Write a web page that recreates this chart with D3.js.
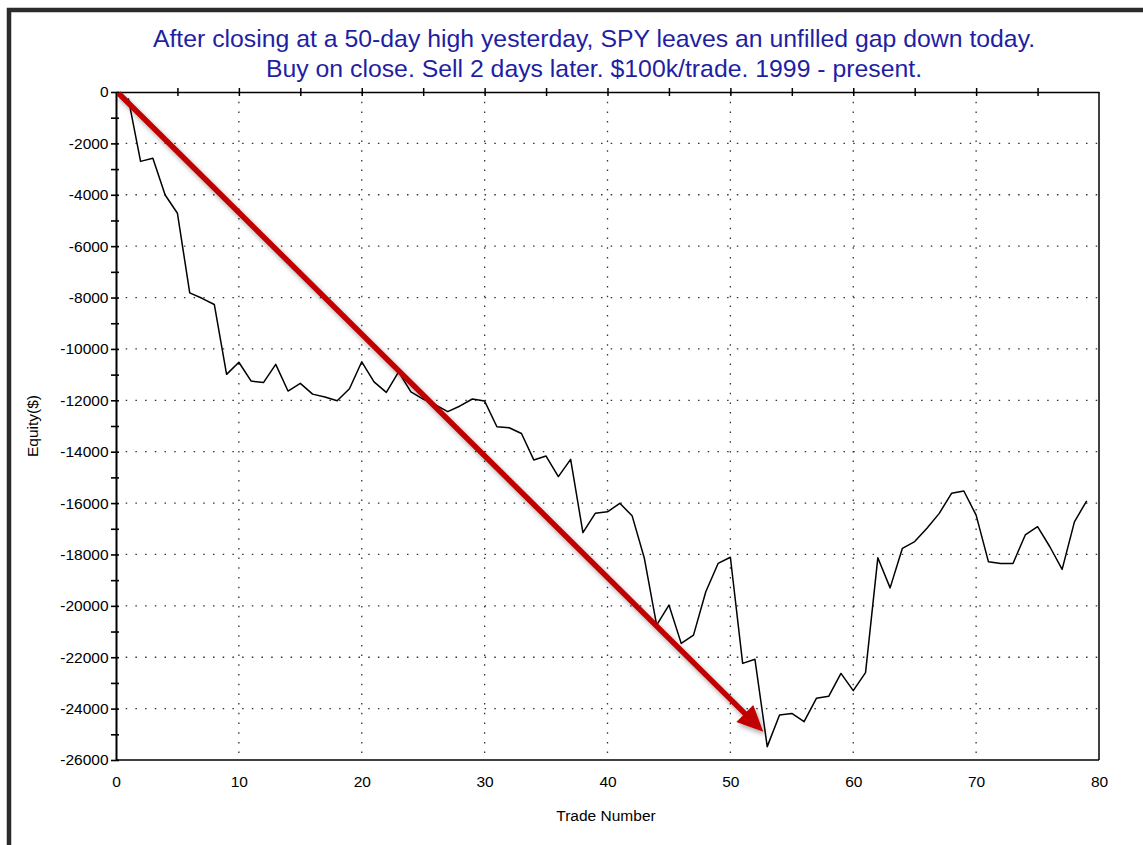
<!DOCTYPE html>
<html>
<head>
<meta charset="utf-8">
<script src="https://cdn.jsdelivr.net/npm/d3@7"></script>
<style>
  html, body { margin: 0; padding: 0; background: #fff; }
  svg { display: block; }
  text { font-family: "Liberation Sans", Arial, sans-serif; }
</style>
</head>
<body>
<svg id="chart" width="1143" height="845"></svg>
<script>
// ---- Data ----
const titleLines = [
  "After closing at a 50-day high yesterday, SPY leaves an unfilled gap down today.",
  "Buy on close. Sell 2 days later. $100k/trade. 1999 - present."
];
const xLabel = "Trade Number";
const yLabel = "Equity($)";
const tradeNumbers = d3.range(1, 80);
const equity = [
  -250, -2700, -2580, -4010, -4720, -7820, -8030, -8270, -10990, -10520,
  -11250, -11310, -10600, -11640, -11340, -11760, -11870, -12020, -11550, -10500,
  -11280, -11690, -10890, -11670, -11950, -12180, -12440, -12220, -11950, -12030,
  -13030, -13070, -13290, -14320, -14170, -14970, -14300, -17150, -16400, -16340,
  -16010, -16490, -18150, -20750, -19970, -21460, -21140, -19450, -18350, -18110,
  -22240, -22080, -25480, -24250, -24190, -24510, -23600, -23520, -22630, -23300,
  -22600, -18130, -19300, -17760, -17500, -16980, -16400, -15620, -15530, -16470,
  -18280, -18350, -18350, -17240, -16920, -17700, -18580, -16730, -15910
];
const xTicks = [0, 10, 20, 30, 40, 50, 60, 70, 80];
const xTopTicks = d3.range(0, 81, 5);
const yTicks = d3.range(0, -26001, -2000);
const yMinorTicks = d3.range(0, -26001, -1000);
const arrowFrom = [0.2, -50];
const arrowTo = [52.68, -24900];

// ---- Layout ----
const svg = d3.select("#chart");
const L = 116, R = 1099, T = 92, B = 760;
const x = d3.scaleLinear().domain([0, 80]).range([L, R]);
const y = d3.scaleLinear().domain([0, -26000]).range([T, B]);
const labelFont = 15.5;

// outer frame
svg.append("path")
  .attr("d", `M9,${850} L9,10 L${1150},10`)
  .attr("fill", "none").attr("stroke", "#2b2b2b").attr("stroke-width", 4.5);

// defs: shadow
const defs = svg.append("defs");
const f = defs.append("filter").attr("id", "shadow")
  .attr("x", "-10%").attr("y", "-10%").attr("width", "120%").attr("height", "120%");
f.append("feDropShadow").attr("dx", 2).attr("dy", 3).attr("stdDeviation", 2.5)
  .attr("flood-color", "#000").attr("flood-opacity", 0.35);

// title
svg.append("text")
  .attr("x", 594).attr("y", 47).attr("text-anchor", "middle")
  .attr("font-size", 24.8).attr("fill", "#1f1fa3")
  .selectAll("tspan").data(titleLines).join("tspan")
  .attr("x", 594).attr("dy", (d, i) => i === 0 ? 0 : 29.5)
  .text(d => d);

// grid
const gridDash = "1.5 8.2";
svg.append("g").selectAll("line").data(yTicks.filter(v => v !== 0 && v !== -26000)).join("line")
  .attr("x1", L).attr("x2", R).attr("y1", d => y(d)).attr("y2", d => y(d))
  .attr("stroke", "#333").attr("stroke-width", 1.3).attr("stroke-dasharray", gridDash);
svg.append("g").selectAll("line").data(xTicks.filter(v => v !== 0 && v !== 80)).join("line")
  .attr("x1", d => x(d)).attr("x2", d => x(d)).attr("y1", T).attr("y2", B)
  .attr("stroke", "#333").attr("stroke-width", 1.3).attr("stroke-dasharray", gridDash);

// frame lines
svg.append("line").attr("x1", R).attr("x2", R).attr("y1", T).attr("y2", B)
  .attr("stroke", "#000").attr("stroke-width", 1.5);
svg.append("line").attr("x1", L).attr("x2", R).attr("y1", B).attr("y2", B)
  .attr("stroke", "#000").attr("stroke-width", 1.5);

// top axis
const topAxis = svg.append("g").attr("transform", `translate(0,${T})`)
  .call(d3.axisTop(x).tickValues(xTopTicks).tickFormat("").tickSizeOuter(0));
topAxis.select(".domain").attr("stroke", "#000").attr("stroke-width", 1.6);
topAxis.selectAll(".tick line").attr("y1", 4).attr("y2", -4)
  .attr("stroke", "#000").attr("stroke-width", 1.5);
topAxis.selectAll(".tick").filter(d => d === 0 || d === 80).remove();

// left axis
const leftAxis = svg.append("g").attr("transform", `translate(${L},0)`)
  .call(d3.axisLeft(y).tickValues(yMinorTicks)
    .tickFormat(d => (d % 2000 === 0 ? String(d) : ""))
    .tickSizeOuter(0).tickPadding(1.5));
leftAxis.select(".domain").attr("stroke", "#000").attr("stroke-width", 2);
leftAxis.selectAll(".tick line").attr("x1", -5).attr("x2", 3)
  .attr("stroke", "#000").attr("stroke-width", 1.6);
leftAxis.selectAll(".tick text").attr("font-size", labelFont).attr("fill", "#000")
  .attr("font-family", "'Liberation Sans', Arial, sans-serif");

// bottom axis labels
const bottomAxis = svg.append("g").attr("transform", `translate(0,${B})`)
  .call(d3.axisBottom(x).tickValues(xTicks).tickSize(0).tickPadding(16).tickFormat(d3.format("d")));
bottomAxis.select(".domain").remove();
bottomAxis.selectAll(".tick text").attr("font-size", labelFont).attr("fill", "#000")
  .attr("font-family", "'Liberation Sans', Arial, sans-serif");

// axis titles
svg.append("text").attr("x", 606).attr("y", 821).attr("text-anchor", "middle")
  .attr("font-size", labelFont).attr("fill", "#000").text(xLabel);
svg.append("text").attr("transform", "translate(38,426) rotate(-90)")
  .attr("text-anchor", "middle").attr("font-size", labelFont).attr("fill", "#000").text(yLabel);

// series line
const line = d3.line().x((d, i) => x(tradeNumbers[i])).y(d => y(d));
svg.append("path").datum(equity)
  .attr("d", line).attr("fill", "none")
  .attr("stroke", "#000").attr("stroke-width", 1.5).attr("stroke-linejoin", "round");

// red arrow annotation
const x0 = x(arrowFrom[0]), y0 = y(arrowFrom[1]);
const x1 = x(arrowTo[0]), y1 = y(arrowTo[1]);
const len = Math.hypot(x1 - x0, y1 - y0);
const ux = (x1 - x0) / len, uy = (y1 - y0) / len;
const headLen = 26, headHalf = 12;
const bx = x1 - ux * headLen, by = y1 - uy * headLen;
const arrow = svg.append("g").attr("filter", "url(#shadow)");
arrow.append("line").attr("x1", x0).attr("y1", y0).attr("x2", bx + ux * 2).attr("y2", by + uy * 2)
  .attr("stroke", "#c00000").attr("stroke-width", 5.5);
arrow.append("path")
  .attr("d", `M${x1},${y1} L${bx - uy * headHalf},${by + ux * headHalf} L${bx + uy * headHalf},${by - ux * headHalf} Z`)
  .attr("fill", "#c00000");
</script>
</body>
</html>
